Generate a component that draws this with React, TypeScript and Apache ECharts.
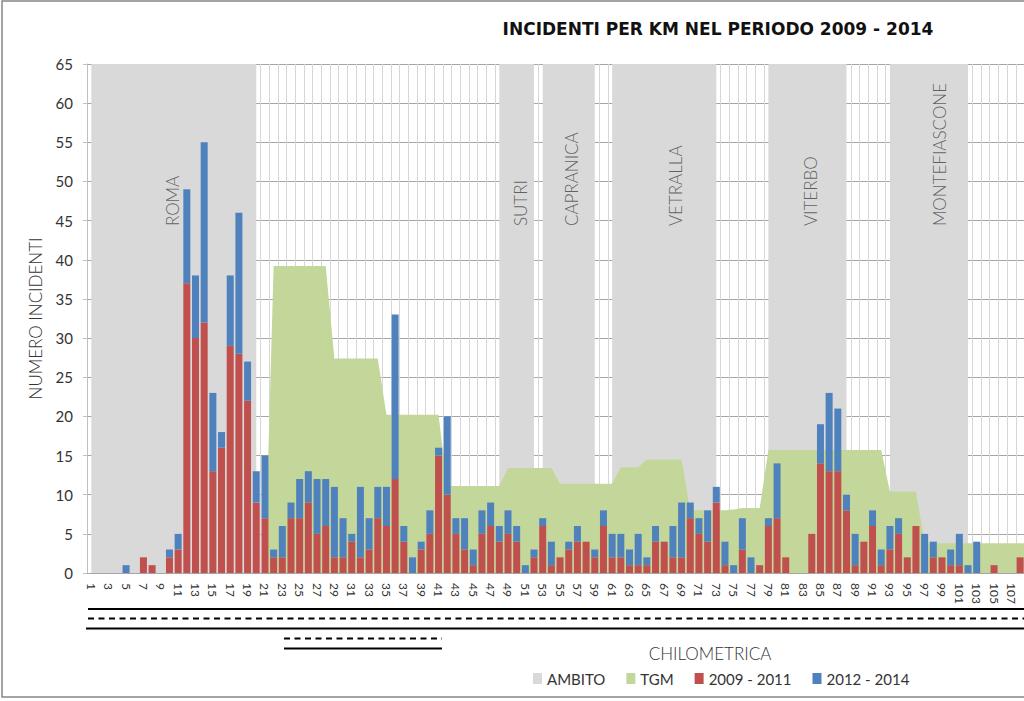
import React, { useEffect, useRef } from "react";
import * as echarts from "echarts";

// Chilometrica (km) categories
const KM: string[] = Array.from({ length: 110 }, (_, i) => String(i + 1));
const LAST_LABELLED_KM = 108;

// Incidents 2009 - 2011 per km (km 1..110)
const RED: number[] = [
  0, 0, 0, 0, 0, 0, 2, 1, 0, 2,
  3, 37, 30, 32, 13, 16, 29, 28, 22, 9,
  7, 2, 2, 7, 7, 9, 5, 6, 2, 2,
  4, 2, 3, 7, 6, 12, 4, 0, 3, 5,
  15, 10, 5, 3, 1, 5, 6, 4, 5, 4,
  0, 2, 6, 1, 2, 3, 4, 4, 2, 6,
  2, 2, 1, 1, 1, 4, 4, 2, 2, 7,
  5, 4, 9, 1, 0, 3, 0, 1, 6, 7,
  2, 0, 0, 5, 14, 13, 13, 8, 1, 4,
  6, 1, 3, 5, 2, 6, 0, 2, 2, 1,
  1, 0, 0, 0, 1, 0, 0, 2, 0, 0,
];

// Incidents 2012 - 2014 per km (km 1..110)
const BLUE: number[] = [
  0, 0, 0, 0, 1, 0, 0, 0, 0, 1,
  2, 12, 8, 23, 10, 2, 9, 18, 5, 4,
  8, 1, 4, 2, 5, 4, 7, 6, 9, 5,
  1, 9, 4, 4, 5, 21, 2, 2, 1, 3,
  1, 10, 2, 4, 2, 3, 3, 2, 3, 2,
  1, 1, 1, 3, 0, 1, 2, 0, 1, 2,
  3, 3, 2, 4, 1, 2, 0, 4, 7, 2,
  2, 4, 2, 3, 1, 4, 2, 0, 1, 7,
  0, 0, 0, 0, 5, 10, 8, 2, 4, 0,
  2, 2, 3, 2, 0, 0, 5, 2, 0, 2,
  4, 1, 4, 0, 0, 0, 0, 0, 0, 0,
];

// TGM (traffic) profile drawn on the same scale (km 1..110)
const TGM: number[] = [
  0, 0, 0, 0, 0, 0, 0, 0, 0, 0,
  0, 0, 0, 0, 0, 0, 0, 0, 0, 0,
  0, 39.2, 39.2, 39.2, 39.2, 39.2, 39.2, 39.2, 27.4, 27.4,
  27.4, 27.4, 27.4, 27.4, 20.2, 20.2, 20.2, 20.2, 20.2, 20.2,
  20.2, 11.1, 11.1, 11.1, 11.1, 11.1, 11.1, 11.1, 13.4, 13.4,
  13.4, 13.4, 13.4, 13.4, 11.4, 11.4, 11.4, 11.4, 11.4, 11.4,
  11.4, 13.5, 13.5, 13.5, 14.5, 14.5, 14.5, 14.5, 14.5, 8.0,
  8.0, 8.0, 8.0, 8.0, 8.1, 8.3, 8.3, 8.3, 15.7, 15.7,
  15.7, 15.7, 15.7, 15.7, 15.7, 15.7, 15.7, 15.7, 15.7, 15.7,
  15.7, 15.7, 10.4, 10.4, 10.4, 10.4, 3.8, 3.8, 3.8, 3.8,
  3.8, 3.8, 3.8, 3.8, 3.8, 3.8, 3.8, 3.8, 3.8, 3.8,
];

// AMBITO (urban areas): from km to km
const AMBITO_FROM: string[] = ["1", "48", "53", "61", "79", "93"];
const AMBITO_TO: string[] = ["20", "52", "59", "73", "88", "102"];

// Town labels
const TOWNS: string[] = ["ROMA", "SUTRI", "CAPRANICA", "VETRALLA", "VITERBO", "MONTEFIASCONE"];
const TOWN_KM: number[] = [10.4, 50.4, 56.3, 68.3, 83.8, 98.7];
const TOWN_Y = 44.3;

const Y_MIN = 0;
const Y_MAX = 65;
const Y_STEP = 5;

const C_GREY = "#d9d9d9";
const C_GREEN = "#c4d79b";
const C_RED = "#c0504d";
const C_BLUE = "#4f81bd";

export default function App() {
  const ref = useRef<HTMLDivElement>(null);

  useEffect(() => {
    document.body.style.margin = "0";
    if (!ref.current) return;
    const chart = echarts.init(ref.current, undefined, { renderer: "svg" });
    const catW = 8.68;

    chart.setOption({
      animation: false,
      backgroundColor: "#ffffff",
      grid: {
        left: 87,
        top: 64,
        width: KM.length * catW,
        height: 509,
        containLabel: false,
        outerBoundsMode: "none",
      },
      legend: {
        data: ["AMBITO", "TGM", "2009 - 2011", "2012 - 2014"],
        left: 528,
        top: 666,
        icon: "rect",
        itemWidth: 9,
        itemHeight: 11,
        itemGap: 21,
        textStyle: { fontFamily: "Lato", fontSize: 15, color: "#333" },
      },
      xAxis: [
        {
          type: "category",
          data: KM,
          boundaryGap: true,
          axisLine: { show: true, lineStyle: { color: "#a6a6a6" } },
          axisTick: { show: false },
          axisLabel: {
            interval: (idx: number) => idx % 2 === 0 && idx < LAST_LABELLED_KM,
            rotate: -90,
            margin: 10,
            fontFamily: "Lato",
            fontSize: 12,
            color: "#333",
          },
          splitLine: { show: true, interval: 0, lineStyle: { color: "#d6d6d6", width: 1 } },
        },
        { type: "value", min: 0.5, max: KM.length + 0.5, show: false },
      ],
      yAxis: {
        type: "value",
        min: Y_MIN,
        max: Y_MAX,
        interval: Y_STEP,
        axisLine: { show: true, lineStyle: { color: "#bfbfbf" } },
        axisTick: { show: true, length: 4, lineStyle: { color: "#bfbfbf" } },
        axisLabel: { fontFamily: "Lato", fontSize: 15, color: "#333", margin: 14 },
        splitLine: { show: true, lineStyle: { color: "#a6a6a6", width: 1 } },
        name: "NUMERO INCIDENTI",
        nameLocation: "middle",
        nameRotate: 90,
        nameGap: 43,
        nameTextStyle: { fontFamily: "Lato", fontWeight: 300, fontSize: 17, color: "#333" },
      },
      series: [
        {
          name: "AMBITO",
          type: "line",
          data: [],
          z: 1,
          itemStyle: { color: C_GREY },
          lineStyle: { color: C_GREY },
          markArea: {
            silent: true,
            itemStyle: { color: C_GREY },
            data: AMBITO_FROM.map((a, i) => [{ xAxis: a }, { xAxis: AMBITO_TO[i] }]),
          },
        },
        {
          name: "TGM",
          type: "line",
          data: TGM,
          z: 2,
          symbol: "none",
          lineStyle: { width: 0, color: C_GREEN },
          itemStyle: { color: C_GREEN },
          areaStyle: { color: C_GREEN, opacity: 1 },
        },
        {
          name: "2009 - 2011",
          type: "bar",
          stack: "inc",
          data: RED,
          barWidth: 7,
          z: 3,
          itemStyle: { color: C_RED },
        },
        {
          name: "2012 - 2014",
          type: "bar",
          stack: "inc",
          data: BLUE,
          barWidth: 7,
          z: 3,
          itemStyle: { color: C_BLUE },
        },
        {
          name: "towns",
          type: "scatter",
          xAxisIndex: 1,
          z: 4,
          silent: true,
          symbolSize: 0,
          data: TOWNS.map((n, i) => ({ name: n, value: [TOWN_KM[i], TOWN_Y] })),
          label: {
            show: true,
            position: "inside",
            formatter: "{b}",
            rotate: 90,
            align: "left",
            verticalAlign: "middle",
            fontFamily: "Lato",
            fontWeight: 300,
            fontSize: 17,
            color: "#404040",
          },
        },
      ],
      graphic: [
        {
          type: "rect",
          z: 0,
          shape: { x: 2, y: 1, width: 1100, height: 696 },
          style: { fill: "none", stroke: "#868686", lineWidth: 1.5 },
        },
        {
          type: "text",
          x: 718,
          y: 29,
          style: {
            text: "INCIDENTI PER KM NEL PERIODO 2009 - 2014",
            fontFamily: "DejaVu Sans",
            fontWeight: "bold",
            fontSize: 17,
            fill: "#111",
            align: "center",
            verticalAlign: "middle",
          },
        },
        {
          type: "text",
          x: 710,
          y: 653,
          style: {
            text: "CHILOMETRICA",
            fontFamily: "Lato",
            fontWeight: 300,
            fontSize: 17,
            fill: "#333",
            align: "center",
            verticalAlign: "middle",
          },
        },
        {
          type: "line",
          shape: { x1: 88, y1: 609, x2: 1030, y2: 609 },
          style: { stroke: "#000", lineWidth: 2 },
        },
        {
          type: "line",
          shape: { x1: 88, y1: 618.5, x2: 1030, y2: 618.5 },
          style: { stroke: "#000", lineWidth: 2, lineDash: [6, 4.5] },
        },
        {
          type: "line",
          shape: { x1: 86, y1: 628.5, x2: 1030, y2: 628.5 },
          style: { stroke: "#000", lineWidth: 2 },
        },
        {
          type: "line",
          shape: { x1: 284, y1: 638.5, x2: 442, y2: 638.5 },
          style: { stroke: "#000", lineWidth: 2, lineDash: [6, 4.5] },
        },
        {
          type: "line",
          shape: { x1: 284, y1: 648.5, x2: 442, y2: 648.5 },
          style: { stroke: "#000", lineWidth: 2 },
        },
      ],
    });

    return () => chart.dispose();
  }, []);

  return (
    <div
      ref={ref}
      style={{ position: "absolute", left: 0, top: 0, width: 1024, height: 701 }}
    />
  );
}
